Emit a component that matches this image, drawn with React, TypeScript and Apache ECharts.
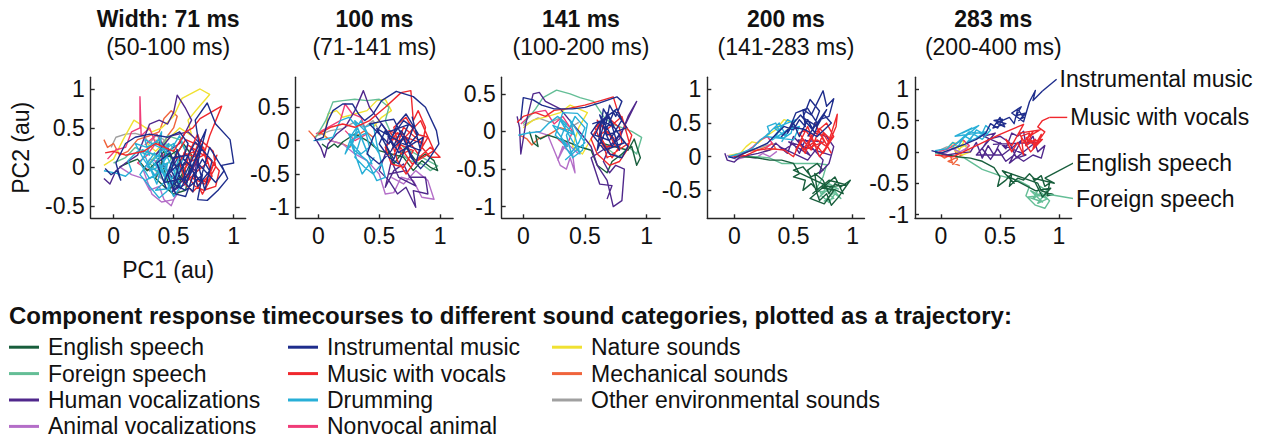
import React, { useEffect, useRef } from 'react';
import * as echarts from 'echarts';

const FONT = '"Liberation Sans", Arial, Helvetica, sans-serif';
const INK = '#111111';
const AXIS = '#262626';

// ---- categories (legend order) ----
const categories = [
  'English speech',
  'Foreign speech',
  'Human vocalizations',
  'Animal vocalizations',
  'Instrumental music',
  'Music with vocals',
  'Drumming',
  'Nonvocal animal',
  'Nature sounds',
  'Mechanical sounds',
  'Other environmental sounds',
];
const categoryColors = [
  '#185e3c', '#64be96', '#50288c', '#b46ec8',
  '#1e2d8c', '#f0282d', '#28afd7', '#f03c78',
  '#f0e132', '#f0643c', '#a0a0a0',
];
// plotting order (later = on top)
const drawOrder = [10, 9, 8, 7, 3, 1, 0, 2, 6, 5, 4];

// ---- panels ----
const panelTitles = ['Width: 71 ms', '100 ms', '141 ms', '200 ms', '283 ms'];
const panelWindows = ['(50-100 ms)', '(71-141 ms)', '(100-200 ms)', '(141-283 ms)', '(200-400 ms)'];
const xTickValues = [0, 0.5, 1];
const yTickValues = [
  [-0.5, 0, 0.5, 1],
  [-1, -0.5, 0, 0.5],
  [-1, -0.5, 0, 0.5],
  [-0.5, 0, 0.5, 1],
  [-1, -0.5, 0, 0.5, 1],
];
const xLimits = [[-0.19, 1.1], [-0.186, 1.107], [-0.175, 1.11], [-0.228, 1.1], [-0.22, 1.107]];
const yLimits = [[-0.66, 1.15], [-1.165, 0.95], [-1.155, 0.72], [-0.915, 1.18], [-1.06, 1.19]];

// ---- trajectories: flat [PC1, PC2, PC1, PC2, ...] ----
// 71 ms
const eng71 = [0.05,0.0, 0.12,0.05, 0.2,0.1, 0.28,-0.05, 0.35,0.05, 0.42,0.2, 0.5,0.1, 0.45,-0.1, 0.55,-0.2, 0.6,-0.05, 0.52,0.15, 0.58,0.3, 0.65,0.15, 0.6,-0.3, 0.5,-0.35, 0.42,-0.25, 0.35,-0.15, 0.45,0.25, 0.52,0.0, 0.62,0.05, 0.56,-0.12, 0.47,-0.28, 0.4,0.08, 0.54,0.22];
const for71 = [0.0,0.05, 0.1,0.12, 0.18,0.25, 0.25,0.2, 0.35,0.15, 0.42,0.3, 0.48,0.1, 0.4,-0.05, 0.5,-0.15, 0.55,0.05, 0.6,0.2, 0.55,0.35, 0.45,0.4, 0.38,0.2, 0.3,0.05, 0.42,-0.18, 0.52,-0.25, 0.58,-0.1, 0.48,0.28, 0.36,0.32];
const hum71 = [-0.08,-0.15, -0.03,-0.22, 0.02,-0.05, 0.1,0.05, 0.2,0.15, 0.3,0.55, 0.38,0.6, 0.45,0.55, 0.5,0.7, 0.53,0.92, 0.6,0.75, 0.65,0.6, 0.55,0.3, 0.45,0.2, 0.38,0.35, 0.42,0.0, 0.5,-0.15, 0.58,0.0, 0.65,0.25, 0.7,0.1, 0.6,-0.22, 0.5,-0.3, 0.45,-0.1, 0.55,0.15, 0.68,-0.05, 0.72,0.3, 0.62,0.45, 0.48,0.4, 0.35,0.15];
const ani71 = [0.05,0.0, 0.15,-0.1, 0.25,-0.15, 0.3,-0.3, 0.38,-0.25, 0.42,-0.42, 0.48,-0.5, 0.52,-0.35, 0.45,-0.2, 0.35,-0.1, 0.4,0.05, 0.3,0.1, 0.25,-0.05, 0.32,-0.35, 0.4,-0.45, 0.5,-0.42, 0.55,-0.3];
const ins71 = [-0.07,-0.02, -0.02,-0.1, 0.03,-0.05, 0.06,-0.17, 0.02,0.05, 0.1,0.3, 0.18,0.38, 0.3,0.42, 0.45,0.38, 0.55,0.45, 0.62,0.3, 0.58,0.1, 0.65,0.0, 0.72,0.2, 0.68,0.6, 0.78,0.82, 0.85,0.55, 0.97,0.35, 1.0,0.05, 0.9,0.02, 0.95,-0.15, 0.87,-0.3, 0.78,-0.43, 0.7,-0.42, 0.74,-0.1, 0.6,-0.3, 0.5,-0.22, 0.55,0.05, 0.45,-0.1, 0.52,-0.35, 0.6,-0.38, 0.66,-0.12, 0.74,0.1, 0.8,-0.05, 0.7,-0.25, 0.62,0.15, 0.5,0.12, 0.42,-0.2, 0.58,-0.15, 0.77,0.48, 0.7,0.05, 0.85,-0.2, 0.92,-0.05, 0.8,0.25, 0.72,-0.18, 0.64,-0.02, 0.56,-0.28, 0.48,-0.05, 0.53,0.22, 0.61,-0.2, 0.69,0.12, 0.76,-0.3, 0.82,0.08, 0.68,0.32, 0.57,0.0, 0.49,-0.32, 0.63,-0.08, 0.73,0.28, 0.66,-0.32, 0.55,-0.12, 0.47,0.18, 0.36,0.05, 0.44,-0.28];
const voc71 = [-0.07,0.18, 0.0,0.2, 0.1,0.15, 0.25,0.2, 0.35,0.3, 0.5,0.2, 0.6,0.45, 0.66,0.5, 0.72,0.62, 0.9,0.78, 0.8,0.4, 0.75,0.15, 0.62,0.05, 0.7,-0.15, 0.78,-0.2, 0.85,0.0, 0.83,0.2, 0.72,0.35, 0.65,0.1, 0.58,-0.05, 0.68,-0.25, 0.75,-0.3, 0.85,-0.25, 0.88,-0.05, 0.8,0.1, 0.62,0.28, 0.55,0.05, 0.6,-0.2, 0.72,-0.02, 0.68,0.2, 0.5,0.1, 0.6,0.35, 0.75,0.25, 0.82,-0.12, 0.74,-0.35, 0.66,-0.1, 0.78,0.05, 0.7,0.42, 0.64,0.22, 0.57,-0.18, 0.66,-0.32, 0.8,-0.1, 0.86,0.15, 0.76,-0.22, 0.62,-0.12, 0.7,0.12, 0.58,0.18];
const drum71 = [-0.08,-0.05, 0.02,-0.08, 0.1,-0.12, 0.15,-0.05, 0.12,0.08, 0.2,0.2, 0.3,0.15, 0.26,0.35, 0.35,0.28, 0.4,0.45, 0.38,0.1, 0.3,-0.05, 0.45,0.05, 0.42,-0.2, 0.35,-0.3, 0.45,-0.28, 0.5,-0.1, 0.55,0.15, 0.5,0.3, 0.42,0.22, 0.32,0.3, 0.22,0.05, 0.3,-0.15, 0.4,-0.05, 0.5,-0.38, 0.56,-0.25, 0.48,0.02, 0.38,0.35, 0.28,0.25, 0.18,0.3, 0.25,0.1, 0.35,-0.12, 0.45,0.15, 0.55,0.4, 0.6,0.2, 0.52,-0.15, 0.44,-0.32, 0.38,-0.4, 0.3,-0.25, 0.22,-0.1, 0.34,0.18, 0.42,-0.08, 0.28,0.0, 0.46,0.3, 0.36,-0.22, 0.24,0.22, 0.4,0.12, 0.5,-0.22, 0.33,0.05, 0.44,-0.02, 0.26,-0.18];
const nonv71 = [-0.05,0.1, 0.02,0.22, 0.1,0.25, 0.15,0.45, 0.22,0.5, 0.22,0.9, 0.23,0.4, 0.3,0.5, 0.35,0.3, 0.28,0.15, 0.2,0.05, 0.3,-0.05, 0.38,0.1, 0.45,0.2, 0.36,0.42, 0.26,0.28];
const nat71 = [-0.08,0.02, 0.0,0.1, 0.08,0.35, 0.17,0.6, 0.25,0.52, 0.32,0.45, 0.4,0.5, 0.5,0.65, 0.57,0.88, 0.72,1.0, 0.8,0.93, 0.7,0.75, 0.62,0.6, 0.65,0.4, 0.55,0.5, 0.45,0.35, 0.35,0.2, 0.28,0.3];
const mech71 = [-0.08,0.35, -0.05,0.25, 0.0,0.3, 0.05,0.15, 0.12,0.2, 0.2,0.35, 0.3,0.4, 0.38,0.45, 0.42,0.62, 0.48,0.72, 0.53,0.65, 0.5,0.5, 0.45,0.4, 0.4,0.25, 0.35,0.35];
const oth71 = [-0.02,0.25, 0.02,0.38, 0.1,0.42, 0.18,0.43, 0.25,0.4, 0.3,0.3, 0.35,0.4, 0.42,0.35, 0.4,0.2, 0.32,0.15];

// 100 ms
const eng100 = [0.03,-0.05, 0.08,-0.12, 0.13,-0.05, 0.16,-0.1, 0.2,-0.02, 0.3,0.1, 0.4,0.0, 0.5,-0.15, 0.6,-0.2, 0.7,-0.25, 0.78,-0.45, 0.85,-0.3, 0.92,-0.4, 0.98,-0.45, 0.95,-0.3, 0.88,-0.2, 0.8,-0.3, 0.72,-0.1, 0.62,-0.35, 0.55,-0.05];
const for100 = [-0.02,0.05, 0.06,0.3, 0.12,0.58, 0.2,0.6, 0.3,0.62, 0.4,0.6, 0.5,0.62, 0.58,0.5, 0.55,0.3, 0.6,0.1, 0.7,-0.1, 0.8,-0.2, 0.9,-0.3, 0.98,-0.38, 0.92,-0.45, 0.85,-0.35, 0.75,-0.3, 0.65,-0.15];
const hum100 = [-0.03,0.05, 0.02,-0.1, 0.05,-0.25, 0.08,-0.05, 0.15,0.1, 0.22,0.2, 0.3,0.45, 0.37,0.75, 0.42,0.5, 0.5,0.3, 0.58,0.1, 0.55,-0.2, 0.5,-0.45, 0.58,-0.6, 0.65,-0.8, 0.72,-0.7, 0.8,-1.0, 0.78,-0.75, 0.9,-0.8, 0.88,-0.55, 0.75,-0.55, 0.7,-0.35, 0.62,-0.45, 0.55,-0.7, 0.6,-0.3, 0.66,-0.55, 0.8,-0.68, 0.72,-0.45, 0.58,-0.5];
const ani100 = [0.1,0.0, 0.2,-0.05, 0.3,-0.2, 0.4,-0.3, 0.5,-0.5, 0.55,-0.8, 0.62,-0.78, 0.68,-0.55, 0.78,-0.6, 0.85,-0.85, 0.95,-0.88, 0.9,-0.6, 0.8,-0.45, 0.7,-0.65, 0.6,-0.55];
const ins100 = [-0.03,0.0, 0.04,0.05, 0.08,0.3, 0.12,0.45, 0.2,0.55, 0.28,0.55, 0.33,0.4, 0.38,0.3, 0.45,0.4, 0.52,0.6, 0.64,0.74, 0.78,0.66, 0.88,0.5, 0.97,0.15, 0.99,-0.05, 0.9,-0.3, 0.84,-0.42, 0.76,-0.25, 0.7,0.05, 0.62,-0.1, 0.55,0.15, 0.5,-0.05, 0.58,-0.25, 0.66,-0.35, 0.72,-0.1, 0.78,0.2, 0.7,0.3, 0.6,0.05, 0.52,0.25, 0.45,0.05, 0.4,-0.2, 0.5,-0.35, 0.6,-0.15, 0.68,0.15, 0.75,-0.05, 0.82,0.1, 0.72,0.4, 0.65,0.25, 0.58,-0.05, 0.42,0.25, 0.55,0.3, 0.62,0.32, 0.8,-0.35, 0.86,0.05, 0.66,-0.18, 0.56,0.12, 0.74,0.24, 0.62,-0.28, 0.48,0.18, 0.7,-0.05, 0.84,-0.15, 0.77,0.36];
const voc100 = [0.0,0.1, 0.1,0.2, 0.2,0.25, 0.3,0.2, 0.42,0.3, 0.55,0.5, 0.68,0.72, 0.76,0.75, 0.78,0.3, 0.82,0.45, 0.88,0.2, 0.85,-0.1, 0.92,-0.25, 1.0,-0.25, 0.92,-0.1, 0.8,-0.3, 0.72,-0.5, 0.65,-0.3, 0.6,0.0, 0.7,0.1, 0.75,-0.15, 0.68,-0.2, 0.62,0.2, 0.72,0.35, 0.8,0.1, 0.9,0.05, 0.82,-0.2, 0.74,0.0, 0.65,0.12, 0.55,-0.1, 0.6,-0.35, 0.7,-0.4, 0.78,-0.15, 0.66,-0.05, 0.84,0.3, 0.95,-0.15, 0.77,-0.35, 0.58,0.15, 0.86,-0.05, 0.7,0.2, 0.62,-0.22];
const drum100 = [-0.04,0.0, 0.05,0.02, 0.12,0.05, 0.18,0.3, 0.25,0.35, 0.32,0.2, 0.28,-0.05, 0.35,-0.2, 0.42,-0.1, 0.38,0.2, 0.45,0.25, 0.48,-0.05, 0.52,-0.35, 0.45,-0.5, 0.38,-0.4, 0.3,-0.25, 0.35,0.05, 0.25,0.1, 0.3,-0.15, 0.4,-0.3, 0.48,-0.6, 0.55,-0.55, 0.5,-0.2, 0.42,0.05, 0.35,0.3, 0.28,0.1, 0.22,-0.2, 0.33,0.15, 0.44,-0.35, 0.3,0.3, 0.4,0.12, 0.26,0.0, 0.36,-0.5, 0.46,-0.25];
const nonv100 = [-0.02,0.1, 0.08,0.2, 0.18,0.3, 0.22,0.55, 0.28,0.4, 0.35,0.35, 0.4,0.1, 0.3,0.0, 0.22,0.15];
const nat100 = [0.05,0.05, 0.08,0.4, 0.15,0.45, 0.2,0.35, 0.3,0.4, 0.4,0.45, 0.48,0.6, 0.55,0.62, 0.6,0.45, 0.52,0.35, 0.45,0.2];
const mech100 = [-0.08,0.15, -0.03,0.05, 0.02,0.12, 0.1,0.0, 0.2,-0.05, 0.26,-0.1, 0.3,0.05, 0.38,0.15, 0.45,0.05];
const oth100 = [0.0,0.08, 0.1,0.15, 0.2,0.18, 0.3,0.28, 0.38,0.2, 0.45,0.3, 0.5,0.15];

// 141 ms
const eng141 = [0.05,0.0, 0.08,-0.15, 0.12,-0.2, 0.1,-0.05, 0.14,-0.1, 0.2,-0.05, 0.3,-0.1, 0.45,-0.2, 0.55,-0.25, 0.6,-0.45, 0.68,-0.55, 0.72,-0.4, 0.8,-0.3, 0.88,-0.2, 0.92,-0.45, 0.95,-0.35, 0.9,-0.1, 0.85,-0.25, 0.62,-0.15];
const for141 = [0.0,0.1, 0.1,0.3, 0.16,0.45, 0.27,0.55, 0.38,0.5, 0.46,0.45, 0.57,0.4, 0.65,0.2, 0.72,0.1, 0.8,0.05, 0.88,0.0, 0.96,-0.08, 0.92,-0.3, 0.85,-0.2, 0.78,-0.35, 0.7,-0.25, 0.6,-0.05];
const hum141 = [-0.05,0.2, -0.03,0.05, -0.02,-0.3, 0.02,0.1, 0.08,0.5, 0.13,0.52, 0.18,0.4, 0.3,0.3, 0.4,0.1, 0.48,-0.05, 0.55,-0.2, 0.6,-0.45, 0.68,-0.65, 0.73,-1.0, 0.8,-0.92, 0.82,-0.5, 0.75,-0.45, 0.7,-0.55, 0.65,-0.4, 0.7,-0.2, 0.8,0.0, 0.92,0.4, 0.85,0.2, 0.78,-0.1, 0.55,-0.35, 0.62,-0.7, 0.72,-0.72, 0.68,-0.9];
const ani141 = [0.1,0.0, 0.2,-0.05, 0.25,-0.25, 0.3,-0.45, 0.35,-0.5, 0.38,-0.35, 0.42,-0.55, 0.4,-0.3, 0.32,-0.2, 0.28,-0.38, 0.35,-0.15, 0.45,-0.3];
const ins141 = [-0.02,0.15, 0.0,0.45, 0.08,0.42, 0.15,0.35, 0.25,0.3, 0.4,0.3, 0.5,0.32, 0.62,0.38, 0.76,0.46, 0.8,0.4, 0.75,0.2, 0.7,0.35, 0.66,0.0, 0.72,-0.2, 0.78,-0.05, 0.85,-0.2, 0.8,-0.35, 0.7,-0.3, 0.62,-0.1, 0.68,0.25, 0.74,0.05, 0.64,0.15, 0.58,-0.05, 0.7,-0.12, 0.8,0.15, 0.76,0.3, 0.6,0.1, 0.55,-0.02, 0.66,-0.25, 0.82,-0.15, 0.72,0.1, 0.65,0.3, 0.6,-0.25, 0.74,0.28, 0.84,0.05, 0.68,-0.05, 0.62,0.22, 0.78,-0.25, 0.7,0.18, 0.56,0.1];
const voc141 = [-0.05,0.12, 0.0,0.2, 0.1,0.25, 0.18,0.2, 0.25,0.28, 0.35,0.3, 0.5,0.35, 0.65,0.42, 0.73,0.46, 0.76,0.3, 0.82,0.1, 0.88,-0.05, 0.84,-0.25, 0.78,-0.4, 0.7,-0.45, 0.6,-0.3, 0.55,-0.1, 0.62,0.1, 0.7,-0.05, 0.75,-0.2, 0.65,-0.2, 0.58,0.05, 0.68,0.2, 0.78,0.05, 0.8,-0.15, 0.72,-0.35, 0.62,-0.05, 0.66,0.0, 0.8,0.2, 0.86,-0.15, 0.68,-0.35, 0.6,0.15, 0.74,-0.1];
const drum141 = [-0.04,-0.05, 0.04,-0.02, 0.14,0.0, 0.2,0.1, 0.28,0.2, 0.35,0.1, 0.3,-0.1, 0.38,-0.3, 0.45,-0.15, 0.5,0.05, 0.42,0.2, 0.35,-0.05, 0.4,-0.35, 0.48,-0.25, 0.52,0.1, 0.44,0.24, 0.32,0.25, 0.26,-0.05, 0.36,-0.2, 0.24,0.08, 0.42,-0.05, 0.3,0.15, 0.46,-0.3, 0.38,0.15, 0.5,-0.15, 0.34,-0.38];
const nonv141 = [-0.02,0.1, 0.08,0.25, 0.18,0.28, 0.25,0.1, 0.32,0.2, 0.4,0.0, 0.35,-0.2, 0.28,-0.1];
const nat141 = [0.0,0.05, 0.08,0.15, 0.2,0.2, 0.3,0.25, 0.38,0.35, 0.45,0.3, 0.52,0.25, 0.45,0.05, 0.4,-0.2, 0.48,-0.3, 0.55,-0.1];
const mech141 = [-0.03,-0.05, 0.03,-0.1, 0.07,-0.18, 0.12,-0.1, 0.2,-0.05, 0.3,0.05, 0.4,0.0];
const oth141 = [0.0,0.08, 0.12,0.18, 0.22,0.12, 0.3,0.18, 0.38,0.05, 0.45,0.12];

// 200 ms
const eng200 = [0.0,0.0, 0.1,0.0, 0.2,-0.02, 0.3,-0.05, 0.4,-0.05, 0.5,-0.1, 0.55,-0.25, 0.5,-0.3, 0.6,-0.35, 0.58,-0.5, 0.65,-0.4, 0.7,-0.5, 0.68,-0.25, 0.75,-0.35, 0.8,-0.55, 0.85,-0.4, 0.9,-0.45, 0.98,-0.35, 0.88,-0.6, 0.82,-0.72, 0.78,-0.55, 0.72,-0.65, 0.68,-0.45, 0.62,-0.2, 0.7,-0.1, 0.75,-0.2, 0.65,-0.3, 0.58,-0.15, 0.5,-0.2, 0.72,-0.38, 0.92,-0.55, 0.85,-0.3, 0.64,-0.62, 0.76,-0.7, 0.84,-0.5, 0.74,-0.45, 0.95,-0.42, 0.8,-0.35, 0.66,-0.55];
const for200 = [0.0,0.02, 0.1,0.0, 0.2,0.0, 0.3,-0.02, 0.4,-0.1, 0.55,-0.1, 0.7,-0.1, 0.78,-0.12, 0.75,-0.3, 0.7,-0.45, 0.75,-0.6, 0.8,-0.68, 0.85,-0.55, 0.9,-0.62, 0.82,-0.45, 0.78,-0.5, 0.72,-0.6, 0.8,-0.4, 0.88,-0.48, 0.74,-0.4, 0.84,-0.62, 0.76,-0.66, 0.86,-0.5, 0.72,-0.52];
const hum200 = [-0.08,0.05, -0.06,-0.05, 0.0,-0.08, 0.05,0.0, 0.12,0.02, 0.2,0.05, 0.3,0.1, 0.35,0.2, 0.42,0.1, 0.5,0.2, 0.55,0.05, 0.6,0.25, 0.7,0.05, 0.75,-0.05, 0.72,-0.25, 0.8,-0.1, 0.84,0.15, 0.78,0.3, 0.68,0.35, 0.6,0.1, 0.5,0.3, 0.45,0.05, 0.38,0.15, 0.62,-0.05, 0.74,0.22, 0.54,0.25, 0.64,0.02, 0.46,0.22, 0.82,0.02];
const ani200 = [-0.06,0.02, 0.02,-0.04, 0.1,0.0, 0.18,-0.02, 0.24,0.05, 0.3,0.0, 0.36,0.08];
const ins200 = [-0.05,0.0, 0.0,-0.02, 0.08,0.05, 0.18,0.12, 0.28,0.2, 0.36,0.35, 0.42,0.45, 0.5,0.4, 0.55,0.55, 0.6,0.45, 0.58,0.7, 0.65,0.62, 0.7,0.8, 0.75,0.98, 0.78,0.75, 0.84,0.86, 0.8,0.6, 0.72,0.55, 0.68,0.35, 0.62,0.55, 0.55,0.3, 0.5,0.5, 0.45,0.35, 0.52,0.65, 0.62,0.72, 0.7,0.5, 0.76,0.62, 0.82,0.5, 0.7,0.3, 0.6,0.4, 0.48,0.45, 0.4,0.3, 0.56,0.62, 0.66,0.4, 0.72,0.68, 0.64,0.85, 0.58,0.58, 0.7,0.45, 0.78,0.7, 0.62,0.3];
const voc200 = [0.0,0.0, 0.1,0.02, 0.2,0.1, 0.3,0.12, 0.42,0.1, 0.5,0.0, 0.55,0.2, 0.6,0.05, 0.65,0.3, 0.7,0.1, 0.75,0.35, 0.8,0.2, 0.86,0.45, 0.87,0.63, 0.82,0.35, 0.78,0.15, 0.7,0.25, 0.62,0.15, 0.55,0.35, 0.6,0.4, 0.68,0.2, 0.75,0.05, 0.82,0.25, 0.72,0.42, 0.65,0.1, 0.58,0.25, 0.52,0.1, 0.62,0.45, 0.72,0.0, 0.84,0.3, 0.78,0.5, 0.66,0.32, 0.58,0.1, 0.76,0.22, 0.68,0.5, 0.82,0.05];
const drum200 = [-0.05,0.0, 0.05,0.05, 0.15,0.12, 0.22,0.25, 0.3,0.35, 0.28,0.45, 0.35,0.5, 0.38,0.38, 0.45,0.55, 0.5,0.5, 0.48,0.35, 0.42,0.28, 0.35,0.3, 0.4,0.45, 0.32,0.25, 0.45,0.4, 0.55,0.45, 0.5,0.25, 0.26,0.3, 0.38,0.5, 0.44,0.3, 0.34,0.42, 0.52,0.55, 0.4,0.22];
const nonv200 = [-0.03,0.0, 0.08,0.05, 0.16,0.15, 0.22,0.25, 0.28,0.3, 0.32,0.2, 0.26,0.12];
const nat200 = [-0.05,0.02, 0.05,0.05, 0.1,0.15, 0.15,0.22, 0.2,0.2, 0.25,0.28, 0.35,0.4, 0.42,0.55, 0.5,0.5, 0.45,0.4];
const mech200 = [-0.04,0.0, 0.05,0.02, 0.12,0.08, 0.2,0.1, 0.28,0.15, 0.32,0.2, 0.35,0.12, 0.25,0.08];
const oth200 = [-0.02,0.02, 0.06,0.06, 0.14,0.1, 0.22,0.14, 0.3,0.18, 0.36,0.2];

// 283 ms
const eng283 = [-0.05,0.0, 0.05,-0.05, 0.15,-0.08, 0.25,-0.1, 0.35,-0.15, 0.45,-0.25, 0.5,-0.4, 0.48,-0.55, 0.55,-0.45, 0.6,-0.35, 0.58,-0.55, 0.65,-0.42, 0.7,-0.45, 0.75,-0.35, 0.8,-0.45, 0.85,-0.38, 0.88,-0.55, 0.92,-0.5, 0.9,-0.7, 0.95,-0.68, 0.85,-0.62, 0.82,-0.5, 0.52,-0.3, 0.62,-0.5, 0.56,-0.38, 0.8,-0.62, 0.93,-0.58, 0.86,-0.72, 0.78,-0.42, 0.96,-0.5, 0.88,-0.42];
const for283 = [-0.05,-0.02, 0.08,-0.06, 0.2,-0.1, 0.35,-0.28, 0.5,-0.38, 0.65,-0.45, 0.75,-0.55, 0.72,-0.7, 0.8,-0.85, 0.88,-0.9, 0.92,-0.78, 0.85,-0.65, 0.78,-0.75, 0.84,-0.55, 0.9,-0.62, 0.82,-0.82, 0.9,-0.75, 0.76,-0.62, 0.86,-0.8, 0.74,-0.72, 0.92,-0.68];
const hum283 = [-0.05,0.0, 0.05,-0.05, 0.15,-0.02, 0.25,0.0, 0.3,0.15, 0.35,-0.1, 0.4,0.1, 0.45,-0.05, 0.5,0.15, 0.55,0.05, 0.6,0.3, 0.65,0.25, 0.7,0.33, 0.72,0.1, 0.78,0.25, 0.82,0.0, 0.88,0.1, 0.85,-0.1, 0.78,-0.05, 0.7,-0.15, 0.62,-0.05, 0.55,-0.15, 0.48,0.05, 0.42,-0.12, 0.35,0.05, 0.4,0.2, 0.5,0.25, 0.58,0.15, 0.64,-0.1, 0.72,-0.05, 0.36,0.25, 0.46,0.3, 0.3,-0.05, 0.52,-0.05, 0.68,0.18, 0.58,-0.18, 0.8,0.15, 0.44,0.12];
const ani283 = [-0.04,0.0, 0.04,-0.02, 0.1,0.05, 0.16,0.0, 0.22,0.06];
const ins283 = [-0.08,0.02, 0.0,-0.02, 0.1,0.05, 0.2,0.12, 0.3,0.2, 0.38,0.3, 0.42,0.45, 0.48,0.38, 0.52,0.52, 0.45,0.5, 0.55,0.45, 0.5,0.42, 0.44,0.38, 0.5,0.55, 0.54,0.4, 0.47,0.46, 0.58,0.55, 0.62,0.45, 0.65,0.68, 0.7,0.55, 0.66,0.5, 0.72,0.62, 0.64,0.58, 0.68,0.72, 0.6,0.62, 0.7,0.48, 0.75,0.8, 0.8,0.98, 0.78,0.82, 0.86,0.97];
const voc283 = [-0.05,-0.05, 0.1,-0.08, 0.3,0.1, 0.5,0.28, 0.7,0.44, 0.6,0.1, 0.55,0.2, 0.6,0.0, 0.65,0.15, 0.7,-0.05, 0.68,0.25, 0.75,0.3, 0.72,0.1, 0.8,0.2, 0.78,0.05, 0.85,0.28, 0.82,0.12, 0.75,0.2, 0.78,0.32, 0.7,0.15, 0.86,0.2, 0.76,0.0, 0.66,0.3, 0.84,0.35, 0.72,0.22, 0.8,0.1, 0.88,0.32, 0.82,0.4, 0.86,0.5, 0.92,0.55];
const drum283 = [-0.05,0.02, 0.05,0.05, 0.1,0.15, 0.15,0.1, 0.2,0.25, 0.25,0.2, 0.3,0.35, 0.35,0.3, 0.38,0.42, 0.42,0.35, 0.35,0.2, 0.28,0.28, 0.22,0.15, 0.3,0.22, 0.38,0.32, 0.12,0.25, 0.26,0.38, 0.18,0.3, 0.32,0.42, 0.1,0.08, 0.24,0.32, 0.4,0.28];
const nonv283 = [-0.02,0.0, 0.06,0.05, 0.12,0.12, 0.18,0.2, 0.24,0.1, 0.2,0.02];
const nat283 = [-0.02,0.0, 0.05,0.05, 0.1,0.15, 0.15,0.05, 0.2,0.1, 0.25,0.0, 0.18,-0.05, 0.12,0.02, 0.08,0.12, 0.2,0.18, 0.14,-0.02];
const mech283 = [-0.03,-0.02, 0.03,-0.1, 0.08,-0.05, 0.1,-0.2, 0.14,-0.12, 0.12,0.02, 0.18,-0.05, 0.06,-0.15, 0.16,-0.22];
const oth283 = [-0.02,0.02, 0.05,0.08, 0.12,0.05, 0.18,0.12, 0.24,0.08];

// per panel, in category order
const panelTrajectories = [
  [eng71, for71, hum71, ani71, ins71, voc71, drum71, nonv71, nat71, mech71, oth71],
  [eng100, for100, hum100, ani100, ins100, voc100, drum100, nonv100, nat100, mech100, oth100],
  [eng141, for141, hum141, ani141, ins141, voc141, drum141, nonv141, nat141, mech141, oth141],
  [eng200, for200, hum200, ani200, ins200, voc200, drum200, nonv200, nat200, mech200, oth200],
  [eng283, for283, hum283, ani283, ins283, voc283, drum283, nonv283, nat283, mech283, oth283],
];

// leader lines in the last panel, ending where the category label starts
const calloutCategories = [4, 5, 0, 1];
const calloutLines = [
  [0.86, 0.97, 0.98, 1.16],
  [0.92, 0.55, 1.07, 0.55],
  [0.88, -0.42, 1.15, -0.15],
  [0.92, -0.68, 1.26, -0.79],
];

const legendTitle = 'Component response timecourses to different sound categories, plotted as a trajectory:';

// ---- layout (px) ----
const gridLeft = [90.7, 295.7, 501.7, 707.3, 915];
const gridWidth = [155, 157.4, 158.4, 157.2, 156.6];
const gridTop = 77.3;
const gridHeight = 141;

const toPairs = (flat: number[]) => {
  const out: number[][] = [];
  for (let i = 0; i < flat.length; i += 2) out.push([flat[i], flat[i + 1]]);
  return out;
};

const fmt = (v: number) => String(v);

function buildOption() {
  const grids = gridLeft.map((l, i) => ({
    left: l, top: gridTop, width: gridWidth[i], height: gridHeight,
    outerBoundsMode: 'none',
  }));

  const axisLineStyle = { color: AXIS, width: 1.4 };

  const xAxes = gridLeft.map((_, i) => ({
    type: 'value', gridIndex: i, min: xLimits[i][0], max: xLimits[i][1],
    axisLine: { show: true, onZero: false, lineStyle: axisLineStyle },
    axisTick: { show: true, inside: true, length: 4, customValues: xTickValues, lineStyle: axisLineStyle },
    axisLabel: { customValues: xTickValues, formatter: fmt, fontSize: 23, color: INK, fontFamily: FONT, margin: 6 },
    splitLine: { show: false },
    name: i === 0 ? 'PC1 (au)' : '',
    nameLocation: 'middle', nameGap: 40,
    nameTextStyle: { fontSize: 23, color: INK, fontFamily: FONT },
  }));

  const yAxes = gridLeft.map((_, i) => ({
    type: 'value', gridIndex: i, min: yLimits[i][0], max: yLimits[i][1],
    axisLine: { show: true, onZero: false, lineStyle: axisLineStyle },
    axisTick: { show: true, inside: true, length: 4, customValues: yTickValues[i], lineStyle: axisLineStyle },
    axisLabel: { customValues: yTickValues[i], formatter: fmt, fontSize: 23, color: INK, fontFamily: FONT, margin: 6 },
    splitLine: { show: false },
    name: i === 0 ? 'PC2 (au)' : '',
    nameLocation: 'middle', nameGap: 58,
    nameTextStyle: { fontSize: 23, color: INK, fontFamily: FONT },
  }));

  const series: any[] = [];
  panelTrajectories.forEach((traj, p) => {
    drawOrder.forEach((c) => {
      series.push({
        type: 'line', name: categories[c], xAxisIndex: p, yAxisIndex: p,
        data: toPairs(traj[c]), symbol: 'none', showSymbol: false, silent: true,
        itemStyle: { color: categoryColors[c] },
        lineStyle: { color: categoryColors[c], width: 1.4, join: 'round' },
      });
    });
  });
  calloutLines.forEach((seg, k) => {
    const c = calloutCategories[k];
    series.push({
      type: 'line', name: 'callout-' + k, xAxisIndex: 4, yAxisIndex: 4,
      data: toPairs(seg), symbol: 'none', showSymbol: false, silent: true, clip: false,
      lineStyle: { color: categoryColors[c], width: 1.4 },
      itemStyle: { color: categoryColors[c] },
      endLabel: {
        show: true, formatter: categories[c], distance: 3,
        fontSize: 23, color: INK, fontFamily: FONT,
      },
    });
  });

  const titles: any[] = panelTitles.map((t, i) => ({
    text: t, subtext: panelWindows[i],
    left: gridLeft[i] + gridWidth[i] / 2, top: 5, textAlign: 'center',
    padding: 0, itemGap: 0,
    textStyle: { fontSize: 23, fontWeight: 'bold', color: INK, fontFamily: FONT, lineHeight: 28 },
    subtextStyle: { fontSize: 23, color: INK, fontFamily: FONT, lineHeight: 28 },
  }));
  titles.push({
    text: legendTitle, left: 9, top: 303, padding: 0,
    textStyle: { fontSize: 24, fontWeight: 'bold', color: INK, fontFamily: FONT, lineHeight: 24 },
  });

  const legendCols = [[0, 4], [4, 8], [8, 11]];
  const legendLeft = [9, 288, 552];
  const legends = legendCols.map(([a, b], k) => ({
    data: categories.slice(a, b), orient: 'vertical', left: legendLeft[k], top: 334,
    padding: 0, itemGap: 0, itemWidth: 30, itemHeight: 3, icon: 'rect',
    selectedMode: false,
    textStyle: { fontSize: 23, color: INK, fontFamily: FONT, lineHeight: 26.4, padding: [0, 0, 0, 4] },
  }));

  return {
    animation: false,
    backgroundColor: '#ffffff',
    title: titles,
    legend: legends,
    grid: grids,
    xAxis: xAxes,
    yAxis: yAxes,
    series,
  };
}

export default function App() {
  const ref = useRef<HTMLDivElement>(null);
  useEffect(() => {
    if (!ref.current) return;
    const chart = echarts.init(ref.current, undefined, { renderer: 'svg' });
    chart.setOption(buildOption() as any);
    return () => chart.dispose();
  }, []);
  return (
    <div
      ref={ref}
      style={{ position: 'absolute', left: 0, top: 0, width: 1276, height: 441, background: '#fff' }}
    />
  );
}
